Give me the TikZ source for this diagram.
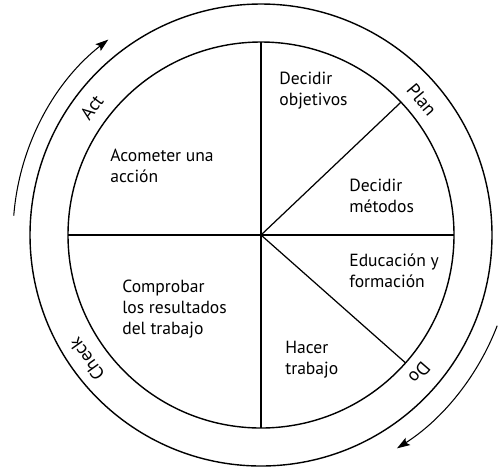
\documentclass[tikz,border=0pt]{standalone}
\usepackage{fontspec}
\setmainfont{PT Sans}
\usetikzlibrary{arrows.meta}
\tikzset{
  circ/.style={draw, line width=0.8pt},
  spk/.style={draw, line width=0.7pt},
  % texto de cada sector
  sec/.style={anchor=west, align=left, inner sep=0pt,
              font=\fontsize{10}{12}\selectfont},
  % etiqueta sobre el anillo
  ring/.style={inner sep=0pt, font=\fontsize{10.5}{12}\selectfont},
  ar/.style={-{Stealth[length=2.6mm, width=1.7mm, inset=0.5mm]}, line width=0.6pt}
}

\begin{document}
\begin{tikzpicture}[x=0.02cm, y=0.02cm]
  \useasboundingbox (-261,-233) rectangle (238,235);
  \coordinate (o) at (0,0);
  \draw[circ] (o) circle[radius=193];
  \draw[circ] (o) circle[radius=231];
  \foreach \a in {0,43.5,90,180,270,-41.5}
    \draw[spk] (o) -- (\a:193);

  \node[sec] (act) at (-151,69) {Acometer una\\acción};
  \node[sec] (obj) at (18,144.5) {Decidir\\objetivos};
  \node[sec] (met) at (88,39.5) {Decidir\\métodos};
  \node[sec] (edu) at (88,-36) {Educación y\\formación};
  \node[sec] (hac) at (24,-125) {Hacer\\trabajo};
  \node[sec] (com) at (-139,-74) {Comprobar\\los resultados\\del trabajo};

  \node[ring, rotate=53] (lact) at (143:212) {Act};
  \node[ring, rotate=-50] (lplan) at (40:210) {Plan};
  \node[ring, rotate=125.5] (lcheck) at (215.5:214) {Check};
  \node[ring, rotate=229] (ldo) at (-41:210) {Do};

  \draw[ar] (175.5:248) arc[start angle=175.5, end angle=128, radius=248];
  \draw[ar] (-21:253) arc[start angle=-21, end angle=-57.5, radius=253];
\end{tikzpicture}
\end{document}
